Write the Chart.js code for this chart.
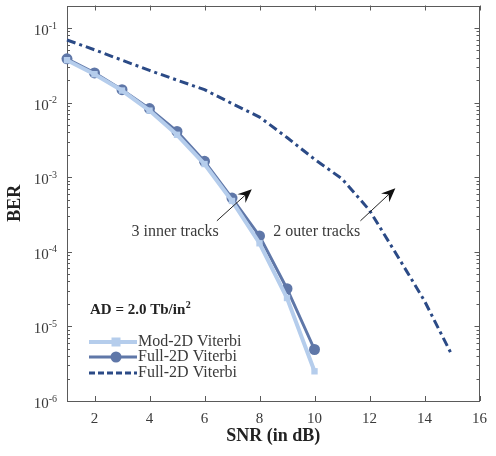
<!DOCTYPE html>
<html>
<head>
<meta charset="utf-8">
<script src="https://cdn.jsdelivr.net/npm/chart.js@4.4.1/dist/chart.umd.min.js"></script>
<style>
  html, body { margin: 0; padding: 0; background: #ffffff; }
  #wrap { width: 496px; height: 456px; position: relative; }
</style>
</head>
<body>
<div id="wrap"><canvas id="c" width="496" height="456"></canvas></div>
<script>
// ---- data ----
const snrInner = [1, 2, 3, 4, 5, 6, 7, 8, 9, 10];
const berMod2D = [0.037, 0.024, 0.0145, 0.0078, 0.0037, 0.0015, 0.00048, 0.00013, 2.4e-5, 2.5e-6];
const berFull2D = [0.0386, 0.025, 0.0149, 0.0083, 0.0041, 0.00163, 0.000525, 0.000163, 3.2e-5, 4.9e-6];
const snrOuter = [1, 2, 3, 4, 5, 6, 7, 8, 9, 10, 11, 12, 13, 14, 15];
const berOuter = [0.069, 0.051, 0.037, 0.027, 0.020, 0.0149, 0.0097, 0.0064, 0.0034, 0.00174, 0.00095, 0.00036, 9e-5, 2.2e-5, 4.1e-6];
const xTicks = [2, 4, 6, 8, 10, 12, 14, 16];
const yTicks = [1e-6, 1e-5, 1e-4, 1e-3, 1e-2, 1e-1];
const seriesLabels = ['Mod-2D Viterbi', 'Full-2D Viterbi', 'Full-2D Viterbi'];
const legendTitleMain = 'AD = 2.0 Tb/in';
const legendTitleSup = '2';
const annotations = [
  { text: '3 inner tracks', textX: 4.93, textY: 1.86e-4, tailX: 6.45, tailY: 2.6e-4, tipX: 7.72, tipY: 6.9e-4 },
  { text: '2 outer tracks', textX: 10.08, textY: 1.86e-4, tailX: 11.67, tailY: 2.6e-4, tipX: 12.94, tipY: 7.1e-4 }
];

const SERIF = '"Liberation Serif", "Times New Roman", serif';
const COL_MOD = '#b5cdec';
const COL_FULL = '#5f77a8';
const COL_OUT = '#2b4a86';
const FRAME = '#5a5a5a';

const toXY = (xs, ys) => xs.map((x, i) => ({ x: x, y: ys[i] }));

const decoPlugin = {
  id: 'deco',
  beforeDatasetsDraw(chart) {
    const ctx = chart.ctx, a = chart.chartArea;
    const xs = chart.scales.x, ys = chart.scales.y;
    ctx.save();
    ctx.strokeStyle = FRAME;
    ctx.lineWidth = 1;
    ctx.strokeRect(Math.round(a.left) + 0.5, Math.round(a.top) + 0.5, Math.round(a.right - a.left) - 1, Math.round(a.bottom - a.top) - 1);
    ctx.beginPath();
    xTicks.forEach(v => {
      const px = Math.round(xs.getPixelForValue(v)) + 0.5;
      ctx.moveTo(px, a.bottom); ctx.lineTo(px, a.bottom - 5);
      ctx.moveTo(px, a.top); ctx.lineTo(px, a.top + 5);
    });
    for (let e = -6; e <= -1; e++) {
      for (let m = 1; m <= 9; m++) {
        const v = m * Math.pow(10, e);
        if (v < ys.min || v > ys.max) continue;
        const py = Math.round(ys.getPixelForValue(v)) + 0.5;
        const len = m === 1 ? 5 : 3;
        ctx.moveTo(a.left, py); ctx.lineTo(a.left + len, py);
        ctx.moveTo(a.right, py); ctx.lineTo(a.right - len, py);
      }
    }
    ctx.stroke();
    ctx.restore();
  },
  afterDraw(chart) {
    const ctx = chart.ctx, a = chart.chartArea;
    const xs = chart.scales.x, ys = chart.scales.y;
    ctx.save();
    yTicks.forEach(v => {
      const py = ys.getPixelForValue(v);
      const e = Math.round(Math.log10(v));
      const expTxt = '-' + Math.abs(e);
      ctx.fillStyle = '#3a3a3a';
      ctx.textBaseline = 'middle';
      ctx.textAlign = 'right';
      ctx.font = '10px ' + SERIF;
      const right = a.left - 10;
      const ew = ctx.measureText(expTxt).width;
      ctx.fillText(expTxt, right, py - 2);
      ctx.font = '15px ' + SERIF;
      ctx.fillText('10', right - ew, py + 3);
    });

    // legend
    const ds = chart.data.datasets;
    const lx0 = a.left + 22, lx1 = a.left + 70, mx = a.left + 49;
    const rows = [a.bottom - 59, a.bottom - 44, a.bottom - 28];
    ctx.fillStyle = '#222';
    ctx.textAlign = 'left';
    ctx.textBaseline = 'middle';
    ctx.font = 'bold 15px ' + SERIF;
    const tx0 = a.left + 23, ty0 = a.bottom - 91;
    ctx.fillText(legendTitleMain, tx0, ty0);
    const tw = ctx.measureText(legendTitleMain).width;
    ctx.font = 'bold 10px ' + SERIF;
    ctx.fillText(legendTitleSup, tx0 + tw + 0.5, ty0 - 5);
    ds.forEach((d, i) => {
      const y = rows[i];
      ctx.save();
      ctx.strokeStyle = d.borderColor;
      ctx.lineWidth = d.borderWidth;
      ctx.setLineDash(i === 2 ? [6, 3] : []);
      ctx.beginPath(); ctx.moveTo(lx0, y); ctx.lineTo(lx1, y); ctx.stroke();
      ctx.setLineDash([]);
      ctx.fillStyle = d.pointBackgroundColor || d.borderColor;
      if (d.pointStyle === 'rect' && d.pointRadius > 0) {
        const r = d.pointRadius;
        ctx.fillRect(mx - r, y - r, 2 * r, 2 * r);
      } else if (d.pointStyle === 'circle' && d.pointRadius > 0) {
        ctx.beginPath(); ctx.arc(mx, y, d.pointRadius, 0, Math.PI * 2); ctx.fill();
      }
      ctx.restore();
      ctx.fillStyle = '#3a3a3a';
      ctx.font = '16px ' + SERIF;
      ctx.fillText(d.label, lx1 + 1, y);
    });

    annotations.forEach(an => {
      const tx = xs.getPixelForValue(an.textX), ty = ys.getPixelForValue(an.textY);
      ctx.fillStyle = '#3a3a3a';
      ctx.font = '16px ' + SERIF;
      ctx.textAlign = 'center';
      ctx.textBaseline = 'middle';
      ctx.fillText(an.text, tx, ty);
      const x0 = xs.getPixelForValue(an.tailX), y0 = ys.getPixelForValue(an.tailY);
      const x1 = xs.getPixelForValue(an.tipX), y1 = ys.getPixelForValue(an.tipY);
      const ang = Math.atan2(y1 - y0, x1 - x0);
      const L = 14, W = 6;
      ctx.strokeStyle = '#222';
      ctx.lineWidth = 1;
      ctx.beginPath(); ctx.moveTo(x0, y0);
      ctx.lineTo(x1 - Math.cos(ang) * L * 0.6, y1 - Math.sin(ang) * L * 0.6); ctx.stroke();
      ctx.fillStyle = '#111';
      ctx.save();
      ctx.translate(x1, y1); ctx.rotate(ang);
      ctx.beginPath();
      ctx.moveTo(0, 0);
      ctx.lineTo(-L, -W);
      ctx.lineTo(-L * 0.65, 0);
      ctx.lineTo(-L, W);
      ctx.closePath();
      ctx.fill();
      ctx.restore();
    });
    ctx.restore();
  }
};

new Chart(document.getElementById('c'), {
  type: 'line',
  data: {
    datasets: [
      {
        label: seriesLabels[0],
        data: toXY(snrInner, berMod2D),
        borderColor: COL_MOD,
        backgroundColor: COL_MOD,
        pointBackgroundColor: COL_MOD,
        pointBorderColor: COL_MOD,
        borderWidth: 4,
        pointStyle: 'rect',
        pointRadius: 4.5,
        pointBorderWidth: 0,
        tension: 0,
        clip: false
      },
      {
        label: seriesLabels[1],
        data: toXY(snrInner, berFull2D),
        borderColor: COL_FULL,
        backgroundColor: COL_FULL,
        pointBackgroundColor: COL_FULL,
        pointBorderColor: COL_FULL,
        borderWidth: 3,
        pointStyle: 'circle',
        pointRadius: 5.5,
        pointBorderWidth: 0,
        tension: 0,
        clip: false
      },
      {
        label: seriesLabels[2],
        data: toXY(snrOuter, berOuter),
        borderColor: COL_OUT,
        backgroundColor: COL_OUT,
        borderWidth: 3,
        borderDash: [9, 4, 3, 4],
        pointRadius: 0,
        tension: 0,
        clip: false
      }
    ]
  },
  options: {
    responsive: false,
    animation: false,
    devicePixelRatio: 1,
    layout: { padding: { top: 4, right: 14, left: 0, bottom: 0 } },
    plugins: { legend: { display: false }, tooltip: { enabled: false } },
    scales: {
      x: {
        type: 'linear',
        min: 1, max: 16,
        afterBuildTicks: s => { s.ticks = xTicks.map(v => ({ value: v })); },
        afterFit: s => { s.height = 55; },
        grid: { display: false, drawTicks: false },
        border: { display: false },
        ticks: { padding: 9, color: '#3a3a3a', font: { family: SERIF, size: 15 }, maxRotation: 0 },
        title: { display: true, text: 'SNR (in dB)', color: '#222', font: { family: SERIF, size: 18, weight: 'bold' }, padding: { top: 0, bottom: 9 } }
      },
      y: {
        type: 'logarithmic',
        min: 1e-6, max: 0.2,
        afterBuildTicks: s => { s.ticks = yTicks.map(v => ({ value: v, major: true })); },
        afterFit: s => { s.width = 67; },
        grid: { display: false, drawTicks: false },
        border: { display: false },
        ticks: { display: false },
        title: { display: true, text: 'BER', color: '#222', font: { family: SERIF, size: 18, weight: 'bold' }, padding: { top: 5, bottom: 0 } }
      }
    }
  },
  plugins: [decoPlugin]
});
</script>
</body>
</html>
